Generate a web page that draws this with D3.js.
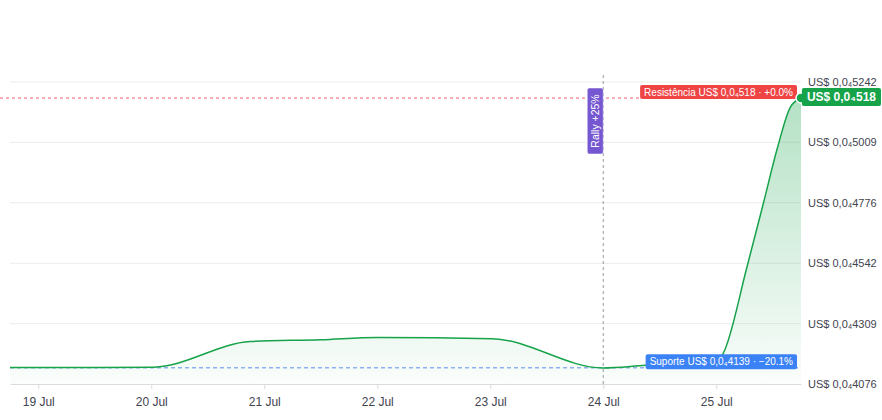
<!DOCTYPE html>
<html>
<head>
<meta charset="utf-8">
<script src="https://cdn.jsdelivr.net/npm/d3@7"></script>
<style>
  body { margin: 0; background: #fff; font-family: "Liberation Sans", Arial, sans-serif; }
  #chart { width: 882px; height: 420px; }
</style>
</head>
<body>
<div id="chart"></div>
<script>
// price in units of 1e-8 (US$ 0,0₄xxxx)
const dates = [
    "2024-07-18T18:00", "2024-07-19T12:00", "2024-07-20T00:30",
    "2024-07-20T21:00", "2024-07-21T12:00", "2024-07-22T00:00", "2024-07-23T00:30",
    "2024-07-24T00:00", "2024-07-24T09:00", "2024-07-25T00:00",
    "2024-07-25T01:30", "2024-07-25T06:30", "2024-07-25T10:00", "2024-07-25T13:00",
    "2024-07-25T15:45", "2024-07-25T18:00"
];
const prices = [
    4140, 4140, 4141,
    4240, 4247, 4256, 4251,
    4138, 4148, 4160,
    4195, 4526, 4773, 4988,
    5145, 5180
];
const yTicks = [4076, 4309, 4542, 4776, 5009, 5242];
const xTickDates = ["2024-07-19", "2024-07-20", "2024-07-21", "2024-07-22", "2024-07-23", "2024-07-24", "2024-07-25"];
const xTickLabels = ["19 Jul", "20 Jul", "21 Jul", "22 Jul", "23 Jul", "24 Jul", "25 Jul"];
const resistance = 5180;
const support = 4139;
const rallyDate = "2024-07-24T00:00";
const rallyLabel = "Rally +25%";
const resistanceLabel = "Resistência US$ 0,0₄518 · +0.0%";
const supportLabel = "Suporte US$ 0,0₄4139 · −20.1%";
const lastLabel = "US$ 0,0₄518";

const fmt = v => "US$ 0,0₄" + v;

const WIDTH = 882, HEIGHT = 420;
const margin = {left: 10, right: 81, top: 82, bottom: 36};
const parse = d3.isoParse;
const data = dates.map((d, i) => ({date: parse(d), value: prices[i]}));

const x = d3.scaleTime()
    .domain([parse("2024-07-18T18:00"), parse("2024-07-25T18:00")])
    .range([margin.left, WIDTH - margin.right]);
const y = d3.scaleLinear()
    .domain([yTicks[0], yTicks[yTicks.length - 1]])
    .range([HEIGHT - margin.bottom, margin.top]);

const svg = d3.select("#chart").append("svg")
    .attr("width", WIDTH).attr("height", HEIGHT);

const defs = svg.append("defs");
const grad = defs.append("linearGradient").attr("id", "areaGrad")
    .attr("x1", 0).attr("y1", 0).attr("x2", 0).attr("y2", 1);
grad.append("stop").attr("offset", "0%").attr("stop-color", "#16a34a").attr("stop-opacity", 0.32);
grad.append("stop").attr("offset", "100%").attr("stop-color", "#16a34a").attr("stop-opacity", 0.02);

// grid lines
svg.append("g").selectAll("line").data(yTicks.slice(1)).join("line")
    .attr("x1", margin.left).attr("x2", WIDTH - margin.right)
    .attr("y1", d => y(d)).attr("y2", d => y(d))
    .attr("stroke", "#ececec").attr("stroke-width", 1);

// area + line
const area = d3.area().x(d => x(d.date)).y0(y.range()[0]).y1(d => y(d.value)).curve(d3.curveMonotoneX);
const line = d3.line().x(d => x(d.date)).y(d => y(d.value)).curve(d3.curveMonotoneX);
svg.append("path").datum(data).attr("d", area).attr("fill", "url(#areaGrad)");

// x axis
const xAxis = svg.append("g").attr("transform", `translate(0,${y.range()[0]})`)
    .call(d3.axisBottom(x).tickValues(xTickDates.map(d => parse(d)))
        .tickFormat((d, i) => xTickLabels[i]).tickSize(5).tickSizeOuter(0));
xAxis.select(".domain").attr("stroke", "#dcdcdc");
xAxis.selectAll(".tick line").attr("stroke", "#dcdcdc");
xAxis.selectAll(".tick text").attr("fill", "#3f4450").attr("font-size", 12)
    .attr("font-family", "Liberation Sans, Arial, sans-serif").attr("dy", "1.2em");

// y axis labels on the right
const yAxis = svg.append("g").attr("transform", `translate(${WIDTH - margin.right},0)`)
    .call(d3.axisRight(y).tickValues(yTicks).tickFormat(fmt).tickSize(0).tickPadding(7));
yAxis.select(".domain").remove();
yAxis.selectAll(".tick text").attr("fill", "#3f4450").attr("font-size", 11)
    .attr("font-family", "Liberation Sans, Arial, sans-serif");

// support / resistance lines
svg.append("line")
    .attr("x1", 0).attr("x2", WIDTH - margin.right)
    .attr("y1", y(resistance)).attr("y2", y(resistance))
    .attr("stroke", "#f0606c").attr("stroke-width", 1).attr("stroke-dasharray", "3,3");
svg.append("line")
    .attr("x1", margin.left).attr("x2", WIDTH - margin.right)
    .attr("y1", y(support)).attr("y2", y(support))
    .attr("stroke", "#8fb0f0").attr("stroke-width", 1.5).attr("stroke-dasharray", "4,3");

// rally marker
const rx = x(parse(rallyDate));
svg.append("line")
    .attr("x1", rx).attr("x2", rx).attr("y1", 75).attr("y2", y.range()[0])
    .attr("stroke", "#9a9a9a").attr("stroke-width", 1).attr("stroke-dasharray", "3,3");

svg.append("path").datum(data).attr("d", line)
    .attr("fill", "none").attr("stroke", "#16a34a").attr("stroke-width", 1.5);

const rallyG = svg.append("g").attr("transform", `translate(${rx - 8},121) rotate(-90)`);
rallyG.append("rect").attr("x", -33).attr("y", -8).attr("width", 66).attr("height", 16)
    .attr("rx", 2).attr("fill", "#7457d1").attr("stroke", "#fff").attr("stroke-width", 0.5);
rallyG.append("text").attr("text-anchor", "middle").attr("dy", "0.35em")
    .attr("fill", "#fff").attr("font-size", 10.5).text(rallyLabel);

// labels
function tag(text, xRight, yMid, color, fontSize, bold, padX, h) {
    const g = svg.append("g");
    const t = g.append("text").attr("font-size", fontSize).attr("font-weight", bold ? "bold" : "normal")
        .attr("fill", "#fff").attr("dy", "0.35em").text(text);
    const w = t.node().getComputedTextLength() + padX * 2;
    g.insert("rect", "text").attr("x", xRight - w).attr("y", yMid - h / 2)
        .attr("width", w).attr("height", h).attr("rx", 2).attr("fill", color);
    t.attr("x", xRight - w + padX).attr("y", yMid);
    return g;
}
tag(resistanceLabel, 797, y(resistance) - 6, "#ef4444", 10, false, 4, 14);
tag(supportLabel, 797, y(support) - 6, "#3b82f6", 10, false, 4, 15);

const last = data[data.length - 1];
svg.append("circle").attr("cx", x(last.date)).attr("cy", y(last.value)).attr("r", 5)
    .attr("fill", "#16a34a").attr("stroke", "#fff").attr("stroke-width", 1.5);
tag(lastLabel, 881, y(last.value) - 1, "#16a34a", 12, true, 5, 18);
</script>
</body>
</html>
